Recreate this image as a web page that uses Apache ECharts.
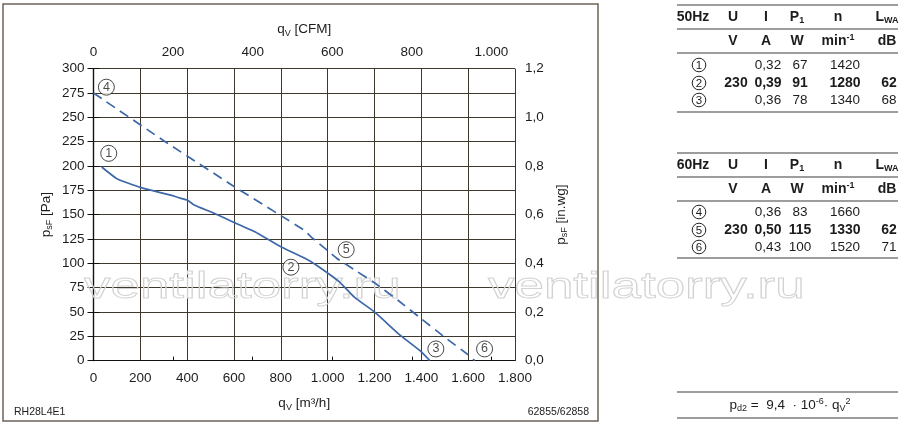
<!DOCTYPE html>
<html>
<head>
<meta charset="utf-8">
<script src="https://cdn.jsdelivr.net/npm/echarts@6/dist/echarts.min.js"></script>
<style>
html,body{margin:0;padding:0;background:#fff;}
#chart{width:900px;height:426px;}
</style>
</head>
<body>
<div id="chart"></div>
<script>
// ---------------- DATA ----------------
// 50 Hz curve (1 -> 2 -> 3), solid
const curve50Flow = [35, 100, 200, 330, 370, 400, 430, 510, 600, 700, 800, 920, 965, 1050, 1115, 1200, 1305, 1400, 1436];
const curve50Pressure = [199, 187, 178, 170, 167, 165, 160, 152, 142, 131, 117, 103, 96, 81, 65, 50, 27, 9, 0];
// 60 Hz curve (4 -> 5 -> 6), dashed
const curve60Flow = [0, 300, 600, 800, 900, 930, 1000, 1040, 1110, 1200, 1300, 1400, 1500, 1600, 1628];
const curve60Pressure = [275, 226, 179, 149, 134, 127, 113, 105, 94, 80, 62, 43, 24, 6, 0];
// operating point markers
const markerLabels = ['1', '2', '3', '4', '5', '6'];
const markerFlow = [65, 843, 1462, 55, 1079, 1670];
const markerPressure = [213, 96, 12, 281, 114, 12];
// axes
const flowMaxM3h = 1800;
const m3hPerCfm = 1.699;
const pressureMaxPa = 300;
const inwgMax = 1.2;
// tables
const tableHeader = ['U', 'I', 'P1', 'n', 'LWA'];
const tableUnits = ['V', 'A', 'W', 'min-1', 'dB'];
const table50Title = '50Hz';
const table50Rows = [
  ['1', '', '0,32', '67', '1420', ''],
  ['2', '230', '0,39', '91', '1280', '62'],
  ['3', '', '0,36', '78', '1340', '68']
];
const table60Title = '60Hz';
const table60Rows = [
  ['4', '', '0,36', '83', '1660', ''],
  ['5', '230', '0,50', '115', '1330', '62'],
  ['6', '', '0,43', '100', '1520', '71']
];
const boldRowIndex = 1;
const formulaCoef = '9,4';
const formulaExp = '-6';
const modelCode = 'RH28L4E1';
const drawingCode = '62855/62858';
const watermarkText = 'ventilatorry.ru';

// ---------------- STYLE / LAYOUT ----------------
const FONT = '"Liberation Sans", Arial, Helvetica, sans-serif';
const BLUE = '#3d67a6';
const TXT = '#1c1c1c';
const GRID_L = 93.5, GRID_R = 515, GRID_T = 68.7, GRID_B = 360.6;

function fmtThousands(v) {
  v = Math.round(v);
  if (v >= 1000) {
    return Math.floor(v / 1000) + '.' + String(v % 1000).padStart(3, '0');
  }
  return String(v);
}
function zip(a, b) { return a.map((x, i) => [x, b[i]]); }

const chart = echarts.init(document.getElementById('chart'), null, {renderer: 'canvas'});

// ---------- graphic elements (frame, tables, texts, watermark) ----------
const graphics = [];
graphics.push({
  type: 'rect', z: 0,
  shape: {x: 3, y: 4, width: 595, height: 417},
  style: {fill: 'none', stroke: '#6b6358', lineWidth: 1.5}
});
[84, 488].forEach(x0 => {
  graphics.push({
    type: 'text', z: 1, x: x0, y: 288, scaleX: 1.47, scaleY: 1,
    style: {
      text: watermarkText, x: 0, y: 0,
      font: '36px ' + FONT, fill: 'rgba(255,255,255,0)',
      stroke: '#d2d2d2', lineWidth: 0.9, verticalAlign: 'middle', align: 'left'
    }
  });
});
graphics.push({type: 'text', z: 5, style: {text: modelCode, x: 14, y: 412, font: '10.5px ' + FONT, fill: TXT, verticalAlign: 'middle'}});
graphics.push({type: 'text', z: 5, style: {text: drawingCode, x: 589, y: 412, font: '10.5px ' + FONT, fill: TXT, align: 'right', verticalAlign: 'middle'}});

const TL = 677, TR = 898;
const colX = {title: 693, U: 733, I: 766, P: 797, n: 838, L: 887};
const valX = [699, 736, 768, 800, 845, 889];
const hdrX = [colX.U, colX.I, colX.P, colX.n, colX.L];

function hline(y) {
  graphics.push({type: 'line', z: 5, shape: {x1: TL, y1: y, x2: TR, y2: y}, style: {stroke: '#7d7d7d', lineWidth: 1.3}});
}
const richBase = {
  b: {fontFamily: FONT, fontWeight: 'bold', fontSize: 14, color: TXT},
  bs: {fontFamily: FONT, fontWeight: 'bold', fontSize: 9, color: TXT, padding: [7, 0, 0, 0]},
  bu: {fontFamily: FONT, fontWeight: 'bold', fontSize: 9, color: TXT, padding: [0, 0, 7, 0]},
  t: {fontFamily: FONT, fontSize: 13.5, color: TXT},
  s: {fontFamily: FONT, fontSize: 9, color: TXT, padding: [7, 0, 0, 0]},
  u: {fontFamily: FONT, fontSize: 9, color: TXT, padding: [0, 0, 7, 0]}
};
function headerRich(h) {
  if (h === 'P1') return '{b|P}{bs|1}';
  if (h === 'LWA') return '{b|L}{bs|WA}';
  if (h === 'min-1') return '{b|min}{bu|-1}';
  return '{b|' + h + '}';
}
function rtext(str, x, y, align) {
  graphics.push({
    type: 'text', z: 5,
    style: {text: str, x: x, y: y, align: align || 'center', verticalAlign: 'middle', rich: richBase, font: '13.5px ' + FONT, fill: TXT}
  });
}
function circled(num, x, y) {
  graphics.push({type: 'circle', z: 5, shape: {cx: x, cy: y, r: 6.8}, style: {fill: '#fff', stroke: '#222', lineWidth: 1}});
  graphics.push({type: 'text', z: 6, style: {text: num, x: x, y: y + 0.5, align: 'center', verticalAlign: 'middle', font: '11.5px ' + FONT, fill: TXT}});
}
function drawTable(y0, title, rows, rowYs, lineYs) {
  lineYs.forEach(hline);
  rtext('{b|' + title + '}', colX.title, y0);
  tableHeader.forEach((h, i) => rtext(headerRich(h), hdrX[i], y0));
  tableUnits.forEach((h, i) => rtext(headerRich(h), hdrX[i], y0 + 24));
  rows.forEach((r, ri) => {
    const y = rowYs[ri];
    circled(r[0], valX[0], y);
    for (let c = 1; c < r.length; c++) {
      if (r[c] === '') continue;
      const tag = ri === boldRowIndex ? 'b' : 't';
      rtext('{' + tag + '|' + r[c] + '}', valX[c], y);
    }
  });
}
drawTable(17, table50Title, table50Rows, [65, 83, 100], [5, 29, 53, 112]);
drawTable(165, table60Title, table60Rows, [212, 230, 247], [153, 177, 201, 258]);
hline(392); hline(418);
rtext('{t|p}{s|d2}{t| =  ' + formulaCoef + '  · 10}{u|' + formulaExp + '}{t|· q}{s|V}{u|2}', 790, 405);

// ---------------- OPTION ----------------
const axisNameRich = {
  m: {fontFamily: FONT, fontSize: 13.5, color: TXT},
  s: {fontFamily: FONT, fontSize: 9, color: TXT, padding: [7, 0, 0, 0]}
};
const labelStyle = {fontFamily: FONT, fontSize: 13.5, color: TXT};

const option = {
  animation: false,
  backgroundColor: '#fff',
  grid: {
    left: GRID_L, right: 900 - GRID_R, top: GRID_T, bottom: 426 - GRID_B,
    containLabel: false, outerBoundsMode: 'none'
  },
  xAxis: [
    {
      type: 'value', position: 'bottom', min: 0, max: flowMaxM3h, interval: 200,
      name: '{m|q}{s|V}{m| [m³/h]}', nameLocation: 'middle', nameGap: 35,
      nameTextStyle: {rich: axisNameRich},
      axisLine: {show: true, lineStyle: {color: '#111', width: 1.2}},
      axisTick: {show: false},
      axisLabel: {...labelStyle, margin: 11, formatter: fmtThousands},
      splitLine: {show: true, lineStyle: {color: '#3f382c', width: 1}}
    },
    {
      type: 'value', position: 'top', min: 0, max: flowMaxM3h / m3hPerCfm, interval: 200,
      name: '{m|q}{s|V}{m| [CFM]}', nameLocation: 'middle', nameGap: 31,
      nameTextStyle: {rich: axisNameRich},
      axisLine: {show: true, lineStyle: {color: '#111', width: 1.2}},
      axisTick: {show: true, inside: false, length: 4, lineStyle: {color: '#111'}},
      axisLabel: {...labelStyle, margin: 9, formatter: fmtThousands, showMaxLabel: false},
      splitLine: {show: false}
    }
  ],
  yAxis: [
    {
      type: 'value', position: 'left', min: 0, max: pressureMaxPa, interval: 25,
      name: '{m|p}{s|sF}{m| [Pa]}', nameLocation: 'middle', nameGap: 39, nameRotate: 90,
      nameTextStyle: {rich: axisNameRich},
      axisLine: {show: true, lineStyle: {color: '#111', width: 1.2}},
      axisTick: {show: true, inside: false, length: 6, lineStyle: {color: '#111'}},
      axisLabel: {...labelStyle, margin: 9},
      splitLine: {show: true, lineStyle: {color: '#3f382c', width: 1}}
    },
    {
      type: 'value', position: 'right', min: 0, max: inwgMax, interval: 0.2,
      name: '{m|p}{s|sF}{m| [in.wg]}', nameLocation: 'middle', nameGap: 38, nameRotate: 90,
      nameTextStyle: {rich: axisNameRich},
      axisLine: {show: true, lineStyle: {color: '#111', width: 1.2}},
      axisTick: {show: true, inside: false, length: 6, lineStyle: {color: '#111'}},
      axisLabel: {...labelStyle, margin: 10, formatter: v => v.toFixed(1).replace('.', ',')},
      splitLine: {show: false}
    }
  ],
  series: [
    {
      name: '50Hz', type: 'line', xAxisIndex: 0, yAxisIndex: 0,
      data: zip(curve50Flow, curve50Pressure),
      showSymbol: false, smooth: 0.15, z: 3,
      lineStyle: {color: BLUE, width: 1.7}
    },
    {
      name: '60Hz', type: 'line', xAxisIndex: 0, yAxisIndex: 0,
      data: zip(curve60Flow, curve60Pressure),
      showSymbol: false, smooth: 0.1, z: 3,
      lineStyle: {color: BLUE, width: 1.7, type: [10, 6]}
    },
    {
      name: 'points', type: 'scatter', xAxisIndex: 0, yAxisIndex: 0, z: 4,
      data: markerFlow.map((q, i) => [q, markerPressure[i], markerLabels[i]]),
      symbol: 'circle', symbolSize: 16,
      itemStyle: {color: '#fff', borderColor: '#1a1a1a', borderWidth: 1},
      label: {show: true, position: 'inside', formatter: p => p.data[2], fontFamily: FONT, fontSize: 12.5, color: TXT},
      emphasis: {disabled: true}
    }
  ],
  graphic: graphics
};
chart.setOption(option);
</script>
</body>
</html>
